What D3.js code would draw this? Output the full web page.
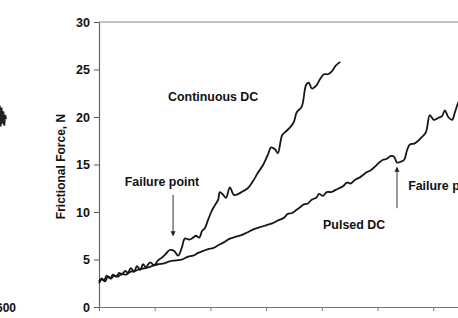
<!DOCTYPE html>
<html>
<head>
<meta charset="utf-8">
<script src="https://cdn.jsdelivr.net/npm/d3@7"></script>
<style>
  body { margin: 0; background: #fff; }
  text { font-family: "Liberation Sans", Arial, sans-serif; font-weight: bold; fill: #111; }
</style>
</head>
<body>
<div id="chart"></div>
<script>
// Data (x in sliding units, y = frictional force in N)
const yTicks = [0, 5, 10, 15, 20, 25, 30];
const xTicks = [0, 100, 200, 300, 400, 500, 600];

const continuousX = [0, 5, 9, 14, 20, 25, 31, 36, 41, 47, 52, 57, 63, 68, 74, 79, 84, 92, 99, 106,
  113, 120, 127, 135, 142, 149, 154, 162, 169, 174, 180, 185, 190, 196, 203, 208, 214, 217, 223, 228,
  235, 242, 250, 259, 267, 276, 285, 294, 303, 309, 316, 321, 329, 336, 343, 350, 355, 364, 372, 377,
  382, 390, 397, 404, 411, 418, 425, 433];
const continuousY = [2.7, 3.0, 2.8, 3.3, 3.0, 3.4, 3.2, 3.6, 3.4, 3.8, 3.6, 4.1, 3.7, 4.3, 3.9, 4.5, 4.2, 4.7, 4.4, 4.9,
  5.2, 5.6, 6.0, 5.9, 5.4, 6.3, 7.2, 7.1, 7.3, 7.5, 7.3, 8.0, 8.3, 9.2, 10.2, 10.7, 11.3, 12.1, 11.8, 11.5,
  12.6, 11.8, 11.9, 12.2, 12.5, 13.2, 14.1, 14.9, 16.0, 16.8, 16.6, 16.2, 18.1, 18.5, 18.9, 19.5, 20.5, 21.1, 23.4, 23.6,
  23.0, 23.3, 24.0, 24.5, 24.5, 24.8, 25.4, 25.8];

const pulsedX = [0, 5, 11, 16, 22, 27, 34, 41, 48, 56, 65, 74, 84, 95, 106, 117, 127, 138, 149, 160,
  169, 178, 187, 196, 205, 214, 224, 235, 246, 257, 268, 278, 289, 300, 311, 321, 332, 339, 347, 354,
  361, 368, 375, 382, 390, 395, 402, 409, 417, 424, 431, 438, 445, 452, 460, 467, 474, 481, 488, 496,
  503, 510, 517, 524, 530, 535, 542, 548, 553, 558, 566, 573, 580, 587, 594, 601, 609, 616, 621, 627,
  634, 639, 645, 652];
const pulsedY = [2.5, 2.9, 2.7, 3.2, 3.0, 3.3, 3.2, 3.5, 3.4, 3.7, 3.8, 4.0, 4.1, 4.3, 4.5, 4.6, 4.8, 4.9, 5.0, 5.3,
  5.4, 5.7, 5.9, 6.1, 6.2, 6.5, 6.8, 7.2, 7.4, 7.6, 7.9, 8.2, 8.4, 8.6, 8.8, 9.1, 9.4, 9.8, 9.9, 10.2,
  10.5, 10.8, 10.9, 11.3, 11.5, 11.9, 11.7, 12.1, 12.1, 12.3, 12.5, 12.7, 13.1, 13.0, 13.4, 13.6, 13.9, 14.2, 14.4, 14.8,
  15.2, 15.5, 15.6, 15.9, 15.8, 15.2, 15.3, 15.5, 16.5, 17.1, 17.2, 17.5, 17.9, 18.4, 20.2, 19.7, 19.9, 20.1, 20.7, 20.0,
  19.7, 20.5, 21.5, 22.2];

// tail of the neighbouring panel, cut off at the left edge
const leftTailX = [590, 591, 592, 593, 594, 595, 596, 597, 598, 599, 600];
const leftTailY = [19.5, 21.4, 18.9, 21.2, 19.0, 21.0, 19.3, 20.6, 19.1, 20.2, 19.8];
const leftTickLabel = "600";

const width = 458, height = 318;
const margin = {left: 99, top: 22, bottom: 11};

const svg = d3.select("#chart").append("svg")
    .attr("width", width)
    .attr("height", height);

// scales
const x = d3.scaleLinear().domain([0, 100]).range([margin.left, margin.left + 55.7]);
const y = d3.scaleLinear().domain([0, 30]).range([height - margin.bottom, margin.top]);
const leftX = d3.scaleLinear().domain([590, 600]).range([-3, 6]);

// top border line
svg.append("line")
    .attr("x1", margin.left).attr("x2", width)
    .attr("y1", y(30)).attr("y2", y(30))
    .attr("stroke", "#8a8a8a").attr("stroke-width", 1.2);

// x axis (labels fall outside the picture)
const xAxis = svg.append("g")
    .attr("transform", `translate(0, ${y(0)})`)
    .call(d3.axisBottom(x).tickValues(xTicks).tickSize(4).tickFormat(""));
xAxis.select(".domain").attr("stroke", "#777").attr("d", `M${margin.left},0.5H${width}`);
xAxis.selectAll(".tick line").attr("stroke", "#777");

// y axis
const yAxis = svg.append("g")
    .attr("transform", `translate(${margin.left}, 0)`)
    .call(d3.axisLeft(y).tickValues(yTicks).tickSize(5).tickPadding(4).tickSizeOuter(0));
yAxis.select(".domain").attr("stroke", "#666").attr("stroke-width", 1.2);
yAxis.selectAll(".tick line").attr("stroke", "#555");
yAxis.selectAll(".tick text")
    .style("font-size", "12.5px")
    .style("font-family", "Liberation Sans, Arial, sans-serif")
    .style("font-weight", "bold")
    .attr("fill", "#111");

// y axis title
svg.append("text")
    .attr("transform", `translate(65, ${(y(0) + y(30)) / 2 + 2}) rotate(-90)`)
    .style("text-anchor", "middle")
    .style("font-size", "12px")
    .text("Frictional Force, N");

// curves
const line = d3.line()
    .x(d => x(d[0]))
    .y(d => y(d[1]))
    .curve(d3.curveCatmullRom.alpha(0.5));

svg.append("path")
    .datum(pulsedX.map((v, i) => [v, pulsedY[i]]))
    .attr("d", line)
    .attr("fill", "none").attr("stroke", "#161616").attr("stroke-width", 1.8);

svg.append("path")
    .datum(continuousX.map((v, i) => [v, continuousY[i]]))
    .attr("d", line)
    .attr("fill", "none").attr("stroke", "#161616").attr("stroke-width", 1.8);

// neighbouring panel remnant
svg.append("path")
    .datum(leftTailX.map((v, i) => [v, leftTailY[i]]))
    .attr("d", d3.line().x(d => leftX(d[0])).y(d => y(d[1])))
    .attr("fill", "none").attr("stroke", "#222").attr("stroke-width", 2);
svg.append("text")
    .attr("x", 16).attr("y", y(0) + 5)
    .style("text-anchor", "end")
    .style("font-size", "12px")
    .text(leftTickLabel);

// arrow marker
svg.append("defs").append("marker")
    .attr("id", "arrow")
    .attr("viewBox", "0 0 10 10")
    .attr("refX", 9).attr("refY", 5)
    .attr("markerWidth", 5).attr("markerHeight", 6)
    .attr("orient", "auto")
    .append("path")
    .attr("d", "M0,0L10,5L0,10Z")
    .attr("fill", "#222");

// annotations
const labels = [
  {t: "Continuous DC", x: 205, y: 21.7, anchor: "middle"},
  {t: "Failure point", x: 113, y: 12.7, anchor: "middle"},
  {t: "Pulsed DC", x: 458, y: 8.2, anchor: "middle"},
  {t: "Failure point", x: 555, y: 12.3, anchor: "start"}
];
svg.selectAll(".note")
    .data(labels)
    .enter()
    .append("text")
    .attr("class", "note")
    .attr("x", d => x(d.x))
    .attr("y", d => y(d.y))
    .style("text-anchor", d => d.anchor)
    .style("font-size", "12.4px")
    .text(d => d.t);

const arrows = [
  {x: 133, from: 11.8, to: 7.5},
  {x: 535, from: 10.4, to: 14.7}
];
svg.selectAll(".arrow")
    .data(arrows)
    .enter()
    .append("line")
    .attr("class", "arrow")
    .attr("x1", d => x(d.x)).attr("x2", d => x(d.x))
    .attr("y1", d => y(d.from)).attr("y2", d => y(d.to))
    .attr("stroke", "#333").attr("stroke-width", 1)
    .attr("marker-end", "url(#arrow)");
</script>
</body>
</html>
